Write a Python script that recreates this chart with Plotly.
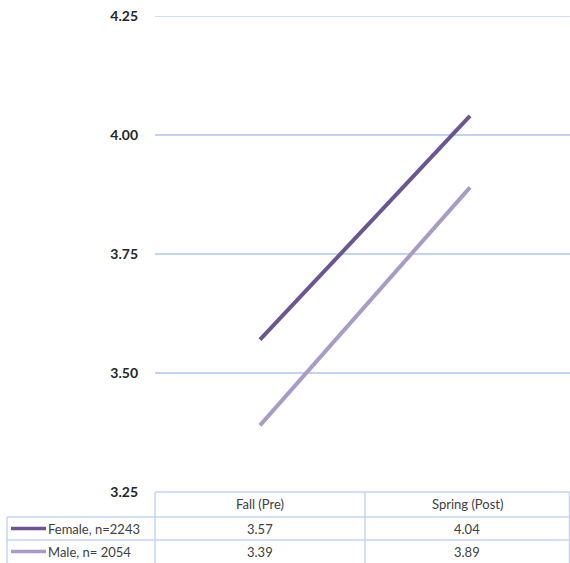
import plotly.graph_objects as go

# Survey mean scores by gender, fall (pre) vs spring (post)
periods = ["Fall (Pre)", "Spring (Post)"]
series_names = ["Female, n=2243", "Male, n= 2054"]
female_scores = [3.57, 4.04]
male_scores = [3.39, 3.89]
series_values = [female_scores, male_scores]
series_colors = ["#6b5694", "#a99bc8"]
y_ticks = [3.25, 3.50, 3.75, 4.00, 4.25]

W, H = 570, 563
L, R, T, B = 155, 0, 16, 71
plot_w = W - L - R
plot_h = H - T - B

grid_color = "#c2d4f5"
text_color = "#404040"
font_family = "Lato, 'Open Sans', sans-serif"


def px_x(x):
    return (x - L) / plot_w


def px_y(y):
    return (H - B - y) / plot_h


fig = go.Figure()
for name, vals, color in zip(series_names, series_values, series_colors):
    fig.add_trace(go.Scatter(
        x=periods, y=vals, mode="lines", name=name,
        line=dict(color=color, width=4), showlegend=False,
    ))

shapes = []
annotations = []


def hline(y, x0, x1):
    shapes.append(dict(type="line", xref="paper", yref="paper",
                       x0=px_x(x0), x1=px_x(x1), y0=px_y(y), y1=px_y(y),
                       line=dict(color=grid_color, width=1.5)))


def vline(x, y0, y1):
    shapes.append(dict(type="line", xref="paper", yref="paper",
                       x0=px_x(x), x1=px_x(x), y0=px_y(y0), y1=px_y(y1),
                       line=dict(color=grid_color, width=1.5)))


# top gridline sits on the edge of the plot area
shapes.append(dict(type="line", xref="paper", yref="y", x0=0, x1=1,
                   y0=y_ticks[-1], y1=y_ticks[-1],
                   line=dict(color=grid_color, width=1.5)))

# data table below the plot
col_edges = [155, 365, 569.5]
left_edge = 7

hline(492, 155, 570)
hline(517, left_edge, 570)
hline(540, left_edge, 570)
vline(left_edge, 517, 563)
for cx in col_edges:
    vline(cx, 492, 563)

col_centers = [(col_edges[i] + col_edges[i + 1]) / 2 for i in range(len(periods))]

# header row
for cx, label in zip(col_centers, periods):
    annotations.append(dict(xref="paper", yref="paper", x=px_x(cx), y=px_y(504.5),
                            text=label, showarrow=False, xanchor="center", yanchor="middle",
                            font=dict(family=font_family, size=13, color=text_color)))

# data rows with legend keys
row_centers = [528.5, 551.5]
for rc, name, vals, color in zip(row_centers, series_names, series_values, series_colors):
    shapes.append(dict(type="line", xref="paper", yref="paper",
                       x0=px_x(11), x1=px_x(46), y0=px_y(rc), y1=px_y(rc),
                       line=dict(color=color, width=3.5)))
    annotations.append(dict(xref="paper", yref="paper", x=px_x(46), y=px_y(rc),
                            text=name, showarrow=False, xanchor="left", yanchor="middle",
                            font=dict(family=font_family, size=13, color=text_color)))
    for cx, v in zip(col_centers, vals):
        annotations.append(dict(xref="paper", yref="paper", x=px_x(cx), y=px_y(rc),
                                text=f"{v:.2f}", showarrow=False, xanchor="center",
                                yanchor="middle",
                                font=dict(family=font_family, size=13, color=text_color)))

fig.update_layout(
    width=W, height=H,
    margin=dict(l=L, r=R, t=T, b=B),
    paper_bgcolor="white", plot_bgcolor="white",
    shapes=shapes, annotations=annotations,
    xaxis=dict(type="category", range=[-0.5, 1.476], showgrid=False, showline=False,
               zeroline=False, showticklabels=False, ticks=""),
    yaxis=dict(range=[3.25, 4.25], tickvals=y_ticks,
               ticktext=[f"<b>{v:.2f}</b>" for v in y_ticks],
               showgrid=True, gridcolor=grid_color, gridwidth=1.5,
               zeroline=False, showline=False, ticks="", ticklabelstandoff=16,
               tickfont=dict(family=font_family, size=14, color="#262626")),
)

fig.write_html("out.html")
